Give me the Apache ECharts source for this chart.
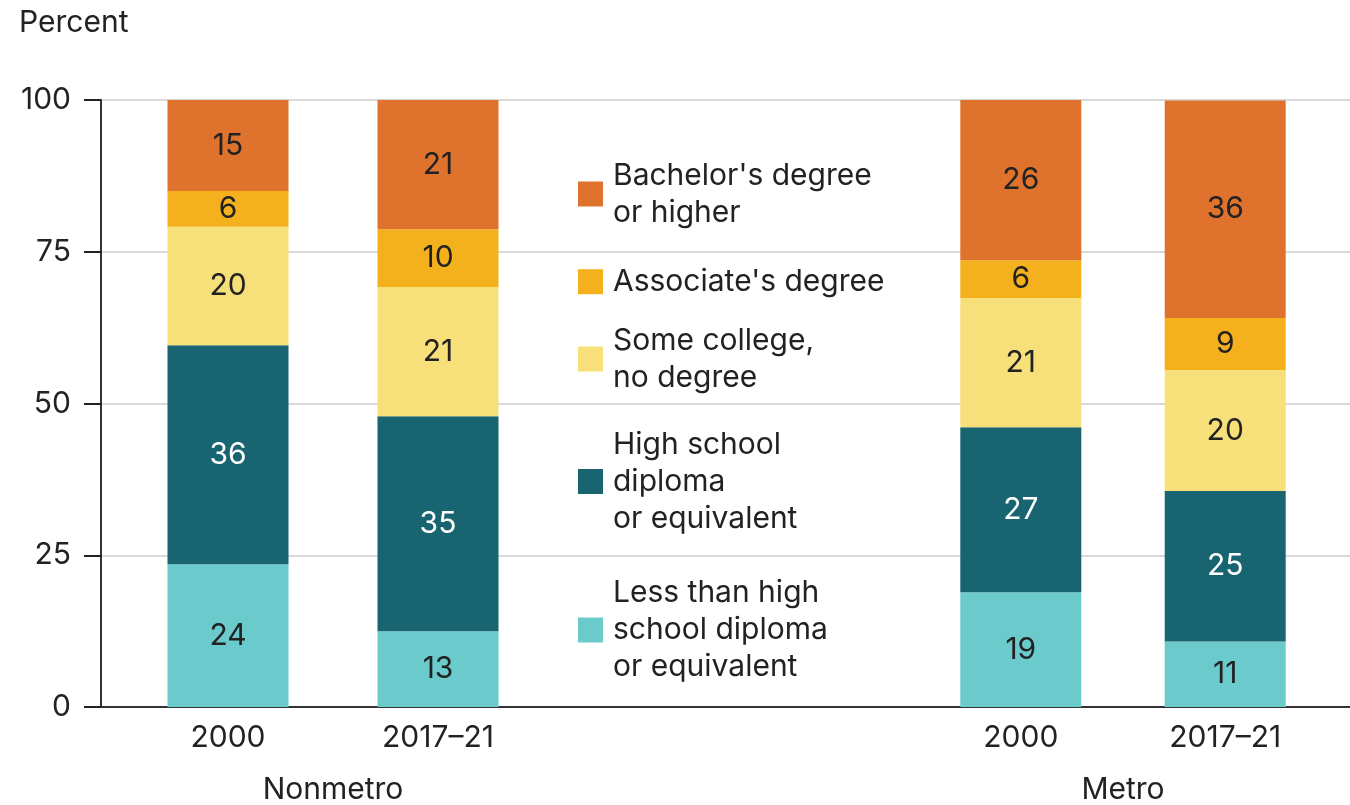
<!DOCTYPE html>
<html>
<head>
<meta charset="utf-8">
<script src="https://cdn.jsdelivr.net/npm/echarts@6/dist/echarts.min.js"></script>
<style>
html,body{margin:0;padding:0;background:#fff;}
#chart{width:1350px;height:805px;}
</style>
</head>
<body>
<div id="chart"></div>
<script>
// ---- Data ----
const groups = ['Nonmetro', 'Metro'];
const years = ['2000', '2017–21'];
const yTicks = [0, 25, 50, 75, 100];
const seriesNames = [
  "Less than high\nschool diploma\nor equivalent",
  "High school\ndiploma\nor equivalent",
  "Some college,\nno degree",
  "Associate's degree",
  "Bachelor's degree\nor higher"
];
// order of values: Nonmetro 2000, Nonmetro 2017–21, Metro 2000, Metro 2017–21
const lessThanHS  = [23.5, 12.5, 18.9, 10.8];
const highSchool  = [36.1, 35.4, 27.2, 24.8];
const someCollege = [19.5, 21.3, 21.3, 19.9];
const associate   = [5.9, 9.5, 6.2, 8.6];
const bachelor    = [15.0, 21.3, 26.4, 35.8];

// ---- Styling ----
const FONT = 'Inter, "Noto Sans", sans-serif';
const FS = 30;
const TXT = '#222222';
const colors = ['#6BCACC', '#186470', '#F7DF79', '#F4B11D', '#DF732D'];
const labelColors = [TXT, '#ffffff', TXT, TXT, TXT];
const valueSets = [lessThanHS, highSchool, someCollege, associate, bachelor];

const chart = echarts.init(document.getElementById('chart'));

const gridTop = 100, gridBottom = 98;
const grids = [
  { left: 101, right: 0, top: gridTop, bottom: gridBottom, outerBoundsMode: 'none', containLabel: false },   // background axes
  { left: 123, width: 420, top: gridTop, bottom: gridBottom, outerBoundsMode: 'none', containLabel: false },  // Nonmetro
  { left: 918.6, width: 408.8, top: gridTop, bottom: gridBottom, outerBoundsMode: 'none', containLabel: false } // Metro
];

const xAxes = [
  { gridIndex: 0, type: 'value', min: 0, max: 1, show: true,
    axisLine: { show: true, lineStyle: { color: '#333', width: 2 } },
    axisTick: { show: false }, axisLabel: { show: false }, splitLine: { show: false } }
];
const yAxes = [
  { gridIndex: 0, type: 'value', min: yTicks[0], max: yTicks[yTicks.length - 1], interval: 25,
    axisLine: { show: true, lineStyle: { color: '#333', width: 2 } },
    axisTick: { show: true, length: 17, lineStyle: { color: '#222', width: 2 } },
    axisLabel: { fontSize: FS, color: TXT, fontFamily: FONT, margin: 30 },
    splitLine: { show: true, lineStyle: { color: '#cccccc', width: 1.5 } } }
];
groups.forEach((g, gi) => {
  xAxes.push({
    gridIndex: gi + 1, type: 'category', data: years,
    name: g, nameLocation: 'middle', nameGap: 68,
    nameTextStyle: { fontSize: FS, color: TXT, fontFamily: FONT },
    axisLine: { show: false }, axisTick: { show: false },
    axisLabel: { fontSize: FS, color: TXT, fontFamily: FONT, margin: 16 }
  });
  yAxes.push({ gridIndex: gi + 1, type: 'value', min: 0, max: 100, show: false, splitLine: { show: false } });
});

const series = [];
groups.forEach((g, gi) => {
  seriesNames.forEach((name, si) => {
    series.push({
      name: name, type: 'bar', stack: 'stack' + gi,
      xAxisIndex: gi + 1, yAxisIndex: gi + 1,
      barWidth: 121,
      itemStyle: { color: colors[si] },
      label: { show: true, position: 'inside', fontSize: FS, fontFamily: FONT,
        color: labelColors[si], formatter: p => Math.round(p.value) },
      emphasis: { disabled: true },
      data: valueSets[si].slice(gi * 2, gi * 2 + 2)
    });
  });
});

// separate legend boxes (top to bottom: Bachelor's ... Less than)
const legendOrder = [4, 3, 2, 1, 0];
const legendCenters = [194, 281.7, 359, 481.5, 630];
const LH = 37;
const legends = legendOrder.map((si, i) => {
  const lines = seriesNames[si].split('\n').length;
  return {
    data: [seriesNames[si]], orient: 'vertical', selectedMode: false,
    left: 578, top: legendCenters[i] - lines * LH / 2, padding: 0,
    itemWidth: 25, itemHeight: 25, icon: 'rect',
    textStyle: { fontSize: FS, lineHeight: LH, color: TXT, fontFamily: FONT, padding: [0, 0, 0, 5] }
  };
});

chart.setOption({
  animation: false,
  title: { text: 'Percent', left: 19, top: 8, padding: 0,
    textStyle: { fontSize: FS, fontWeight: 'normal', color: TXT, fontFamily: FONT } },
  grid: grids,
  xAxis: xAxes,
  yAxis: yAxes,
  legend: legends,
  series: series
});
</script>
</body>
</html>
